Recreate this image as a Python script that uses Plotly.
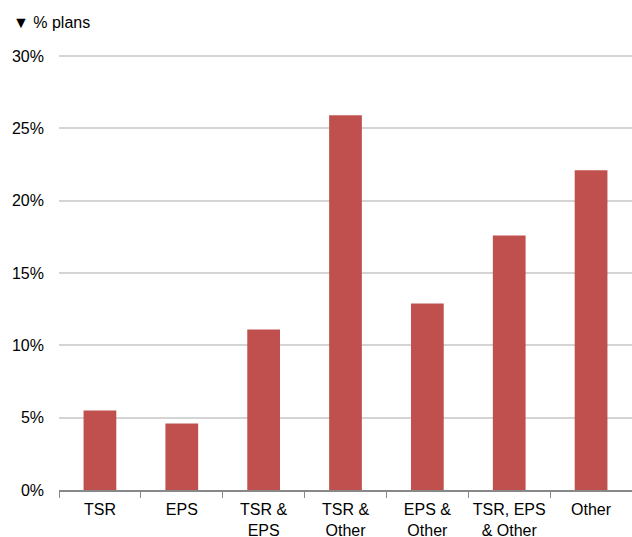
import plotly.graph_objects as go

categories = ["TSR", "EPS", "TSR &<br>EPS", "TSR &<br>Other", "EPS &<br>Other", "TSR, EPS<br>& Other", "Other"]
values = [5.5, 4.6, 11.1, 25.9, 12.9, 17.6, 22.1]
y_ticks = [0, 5, 10, 15, 20, 25, 30]
y_tick_labels = ["0%", "5%", "10%", "15%", "20%", "25%", "30%"]

fig = go.Figure()
fig.add_trace(go.Bar(
    x=categories, y=values,
    marker=dict(color="#C0504D", line=dict(width=0)),
    width=0.4,
))

font_family = "Liberation Sans, Arial, sans-serif"
fig.update_layout(
    width=632, height=537,
    margin=dict(l=59, r=0, t=55, b=47),
    paper_bgcolor="white", plot_bgcolor="white",
    showlegend=False,
    font=dict(family=font_family, size=16, color="#000000"),
    xaxis=dict(
        showgrid=False, showline=True, linecolor="#888888", linewidth=1.5,
        ticks="outside", tickson="boundaries", ticklen=6, tickcolor="#888888",
        tickfont=dict(size=16), automargin=False, ticklabelstandoff=4,
        tickangle=0,
    ),
    yaxis=dict(
        range=[0, 30.07], tickvals=y_ticks, ticktext=y_tick_labels,
        showgrid=True, gridcolor="#D4D4D4", gridwidth=1.5,
        zeroline=False, showline=False, ticks="",
        ticklabelstandoff=14, tickfont=dict(size=16), automargin=False,
    ),
    annotations=[dict(
        text="▼ % plans", xref="paper", yref="paper", x=-59/572, y=1 + 33/435,
        xanchor="left", yanchor="middle", showarrow=False, xshift=11,
        font=dict(size=16, family=font_family),
    )],
)

fig.write_html("out.html")
